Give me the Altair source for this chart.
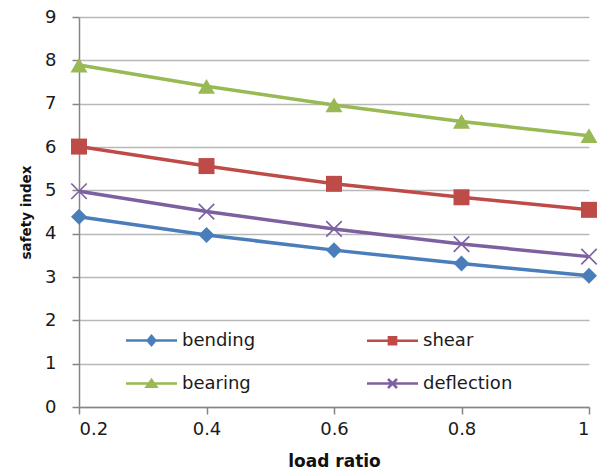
import altair as alt
import pandas as pd

load_ratio = [0.2, 0.4, 0.6, 0.8, 1.0]
bending = [4.39, 3.97, 3.62, 3.31, 3.03]
shear = [6.01, 5.56, 5.15, 4.84, 4.55]
bearing = [7.89, 7.40, 6.97, 6.59, 6.26]
deflection = [4.98, 4.51, 4.11, 3.76, 3.47]

series_names = ["bending", "shear", "bearing", "deflection"]
series_values = [bending, shear, bearing, deflection]
colors = ["#4a7ebb", "#be4b48", "#98b954", "#7d60a0"]

rows = []
for name, vals in zip(series_names, series_values):
    for x, v in zip(load_ratio, vals):
        rows.append({"load ratio": x, "safety index": v, "series": name})
df = pd.DataFrame(rows)

FONT = "DejaVu Sans"
color_scale = alt.Scale(domain=series_names, range=colors)

x_enc = alt.X("load ratio:Q", scale=alt.Scale(domain=[0.2, 1.0], nice=False),
              axis=alt.Axis(values=load_ratio, format=".1~f", grid=False,
                            title="load ratio"))
y_enc = alt.Y("safety index:Q", scale=alt.Scale(domain=[0, 9], nice=False),
              axis=alt.Axis(values=list(range(10)), grid=True, title="safety index"))

base = alt.Chart(df)

marker_shapes = {
    "bending": ("diamond", True, 256),
    "shear": ("square", True, 256),
    "bearing": ("triangle-up", True, 290),
    "deflection": ("M-1,-1L1,1M1,-1L-1,1", False, 240),
}

line_layers = []
point_layers = []
for name, col in zip(series_names, colors):
    sub = base.transform_filter(alt.datum.series == name)
    line_layers.append(
        sub.mark_line(strokeWidth=3.5, color=col).encode(x=x_enc, y=y_enc)
    )
    shp, filled, size = marker_shapes[name]
    point_layers.append(
        sub.mark_point(shape=shp, filled=filled, size=size, opacity=1,
                       color=col, strokeWidth=1.6).encode(x=x_enc, y=y_enc)
    )

legend_paths = [
    "M-2.55,0H2.55M-0.38,0L0,-0.45L0.38,0L0,0.45Z",
    "M-2.55,0H2.55M-0.36,-0.36H0.36V0.36H-0.36Z",
    "M-2.55,0H2.55M-0.48,0.32L0,-0.36L0.48,0.32Z",
    "M-2.55,0H2.55M-0.45,-0.45L0.45,0.45M0.45,-0.45L-0.45,0.45",
]

leg = alt.Legend(
    title=None, orient="none", legendX=61, legendY=312, columns=2,
    direction="horizontal",
    columnPadding=106, rowPadding=22, labelOffset=19,
    labelFont=FONT, labelFontSize=18, labelColor="#1a1a1a",
    symbolOpacity=1, symbolStrokeWidth=2.5, symbolSize=400,
    labelLimit=200,
)

legend_layer = base.transform_filter(alt.datum.series == "__none__").mark_point(
    size=400, filled=True, opacity=1
).encode(
    x=x_enc, y=y_enc,
    fill=alt.Fill("series:N", scale=color_scale, legend=leg),
    stroke=alt.Stroke("series:N", scale=color_scale, legend=leg),
    shape=alt.Shape("series:N", scale=alt.Scale(domain=series_names, range=legend_paths), legend=leg),
)

chart = alt.layer(*line_layers, *point_layers, legend_layer).properties(
    width=510, height=390,
    padding={"left": 79, "top": 17, "right": 16, "bottom": 62},
    autosize="none",
).configure_view(stroke=None).configure_axis(
    domainColor="#868686", tickColor="#868686", gridColor="#b8b8b8",
    domainWidth=1.5, gridWidth=1.5, tickSize=7, tickWidth=1.5,
    labelFont=FONT, labelFontSize=18, labelColor="#1a1a1a",
    titleFont=FONT, titleFontWeight="bold", titleColor="#111111",
).configure_axisX(labelPadding=6, titlePadding=15, titleFontSize=17).configure_axisY(
    labelPadding=16, titlePadding=11, titleFontSize=13.5
)

chart.save("out.html", embed_options={"renderer": "svg", "actions": False})
